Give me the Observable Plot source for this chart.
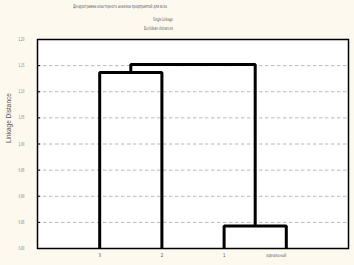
<!DOCTYPE html>
<html><head><meta charset="utf-8">
<script src="https://cdn.jsdelivr.net/npm/d3@7"></script>
<script src="https://cdn.jsdelivr.net/npm/@observablehq/plot@0.6"></script>
<style>
html,body{margin:0;padding:0;background:#fdf9ee;}
#wrap{position:relative;width:354px;height:265px;overflow:hidden;}
.t{position:absolute;font-family:"Liberation Sans Narrow","DejaVu Sans Condensed",sans-serif;color:#555;font-size:5px;white-space:nowrap;line-height:1;}
</style></head>
<body><div id="wrap"></div>
<script>
// Data
const titleText = "Дендрограмма кластерного анализа предприятий для всех";
const subtitle1 = "Single Linkage";
const subtitle2 = "Euclidean distances";
const leaves = ["3", "2", "1", "идеальный"];
const leafPos = [1, 2, 3, 4];
const baseDistance = 0.80;
// merges: left child, right child, height (L = leaf index, M = merge index)
const mergeLeft = ["L0", "L2", "M0"];
const mergeRight = ["L1", "L3", "M1"];
const mergeHeight = [1.137, 0.843, 1.152];
const yTicks = [0.80, 0.85, 0.90, 0.95, 1.00, 1.05, 1.10, 1.15, 1.20];

// build node positions
const nodeX = {}, nodeH = {};
leaves.forEach((l, i) => { nodeX["L" + i] = leafPos[i]; nodeH["L" + i] = baseDistance; });
const paths = [];
mergeHeight.forEach((h, i) => {
  const a = mergeLeft[i], b = mergeRight[i];
  const xa = nodeX[a], xb = nodeX[b];
  paths.push({id: i, x: xa, y: nodeH[a]}, {id: i, x: xa, y: h}, {id: i, x: xb, y: h}, {id: i, x: xb, y: nodeH[b]});
  nodeX["M" + i] = (xa + xb) / 2; nodeH["M" + i] = h;
});

const fmt = d => d.toFixed(2).replace(".", ",");
const font = '"Liberation Sans Narrow","DejaVu Sans Condensed",sans-serif';

const chart = Plot.plot({
  width: 354, height: 265,
  marginLeft: 37, marginRight: 6, marginTop: 39, marginBottom: 17,
  style: {background: "transparent", fontFamily: font},
  x: {domain: [0, 5]},
  y: {domain: [0.80, 1.20]},
  marks: [
    Plot.frame({fill: "white", stroke: "none"}),
    Plot.gridY(yTicks.slice(1, -1), {stroke: "#b8b8b8", strokeOpacity: 1, strokeDasharray: "3.5,2.5"}),
    Plot.ruleY(yTicks, {y: d => d, x1: 0, x2: 0.05, stroke: "black"}),
    Plot.axisY(yTicks, {tickSize: 0, tickPadding: 13, tickFormat: fmt, fontSize: 5, fill: "#777", label: null}),
    Plot.axisX(leafPos, {tickSize: 0, tickPadding: 5, tickFormat: (d, i) => leaves[i], fontSize: 5, fill: "#666", label: null}),
    Plot.line(paths, {x: "x", y: "y", z: "id", stroke: "black", strokeWidth: 3, strokeLinejoin: "miter", strokeLinecap: "butt"}),
    Plot.frame({stroke: "black", strokeWidth: 1.5}),
    Plot.text(["Linkage Distance"], {frameAnchor: "left", dx: -29, dy: -1, rotate: -90, fontSize: 6.5, fill: "#555", fontFamily: "Liberation Sans, sans-serif"})
  ]
});
const wrap = document.getElementById("wrap");
wrap.appendChild(chart);
// condense tick labels
d3.select(chart).selectAll('g[aria-label="y-axis tick label"] text').attr("textLength", 6).attr("lengthAdjust", "spacingAndGlyphs");
d3.select(chart).selectAll('g[aria-label="x-axis tick label"] text').each(function() {
  const s = d3.select(this);
  if (s.text().length > 2) s.attr("textLength", 20).attr("lengthAdjust", "spacingAndGlyphs").attr("dx", -10);
});
function addText(txt, left, top, width) {
  const d = document.createElement("div");
  d.className = "t"; d.textContent = txt;
  d.style.left = left + "px"; d.style.top = top + "px";
  wrap.appendChild(d);
  const w = d.getBoundingClientRect().width;
  d.style.transformOrigin = "0 0";
  d.style.transform = `scaleX(${width / w})`;
}
addText(titleText, 73, 4, 94);
addText(subtitle1, 153, 17, 20);
addText(subtitle2, 144, 26, 29);
</script></body></html>
